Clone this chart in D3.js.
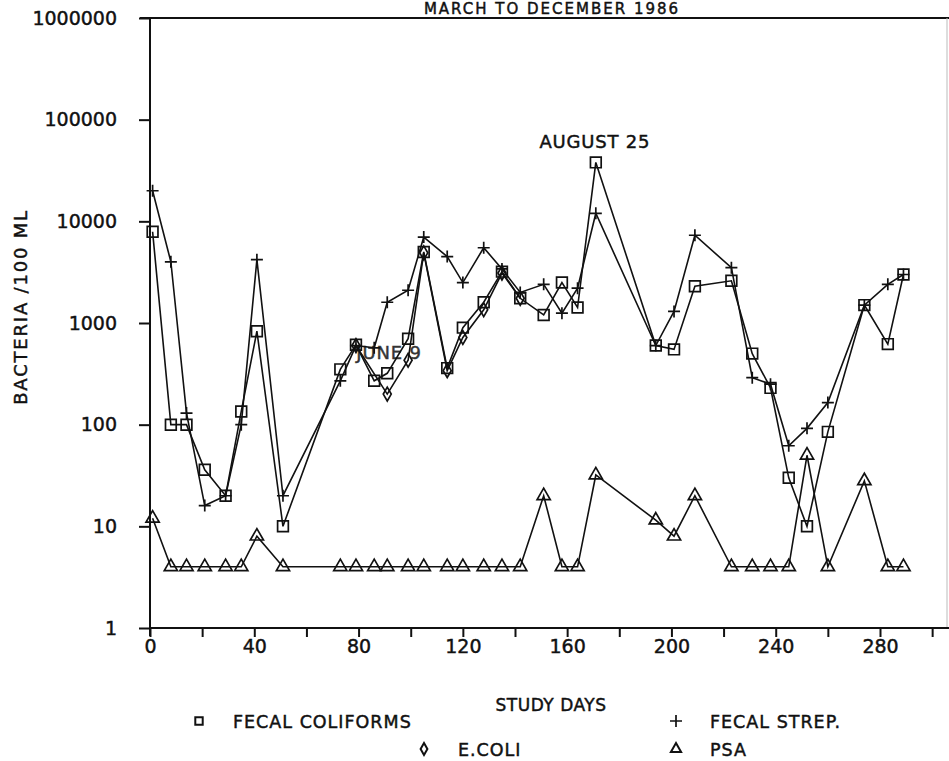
<!DOCTYPE html>
<html>
<head>
<meta charset="utf-8">
<script src="https://cdn.jsdelivr.net/npm/d3@7"></script>
<style>
  body { margin: 0; background: #fff; }
  text { font-family: "DejaVu Sans", sans-serif; fill: #111; stroke: #111; stroke-width: 0.45px; }
</style>
</head>
<body>
<div id="chart"></div>
<script>
// sampling days (study days) for the series measured every visit
const days = [1, 8, 14, 21, 29, 35, 41, 51, 73, 79, 86, 91, 99, 105, 114, 120, 128, 135, 142,
  151, 158, 164, 171, 194, 201, 209, 223, 231, 238, 245, 252, 260, 274, 283, 289];

const fecalColiforms = [7900, 100, 100, 36, 20, 135, 830, 10, 350, 610, 270, 320, 700, 5000, 360, 900, 1600, 3200, 1750,
  1200, 2500, 1420, 38000, 600, 550, 2300, 2600, 500, 230, 30, 10, 85, 1500, 620, 3000];

const fecalStrep = [20000, 4000, 130, 16, 20, 100, 4200, 20, 270, 600, 570, 1600, 2100, 7000, 4500, 2500, 5500, 3400, 2000,
  2400, 1250, 2200, 12000, 600, 1300, 7300, 3500, 290, 250, 62, 92, 165, 1500, 2400, 3000];

const psa = [12, 4, 4, 4, 4, 4, 8, 4, 4, 4, 4, 4, 4, 4, 4, 4, 4, 4, 4,
  20, 4, 4, 32, 11.5, 8, 20, 4, 4, 4, 4, 50, 4, 28, 4, 4];

// E. coli was only plotted for part of the summer
const ecoliDays = [79, 91, 99, 105, 114, 120, 128, 135, 142];
const ecoli = [600, 200, 430, 4900, 340, 720, 1350, 3100, 1750];

const yTicks = [1, 10, 100, 1000, 10000, 100000, 1000000];
const xTicks = d3.range(0, 301, 20);

const W = 949, H = 761;
const svg = d3.select("#chart")
  .append("svg")
  .attr("width", W)
  .attr("height", H);

const x = d3.scaleLinear().domain([0, 280]).range([150, 880]);
const y = d3.scaleLog().domain([1, 1000000]).range([628, 18]);

const ink = "#111";

// frame
svg.append("line").attr("x1", 140).attr("x2", W).attr("y1", 18).attr("y2", 18)
  .attr("stroke", ink).attr("stroke-width", 2);
svg.append("line").attr("x1", 947).attr("x2", 947).attr("y1", 18).attr("y2", 628)
  .attr("stroke", "#bbb").attr("stroke-width", 1);

// y axis
const yAxis = svg.append("g")
  .attr("transform", "translate(150,0)")
  .call(d3.axisLeft(y).tickValues(yTicks).tickFormat(d3.format("d")).tickSize(11).tickPadding(22));
yAxis.select(".domain").remove();
yAxis.append("line").attr("x1", 0).attr("x2", 0).attr("y1", 18).attr("y2", 636)
  .attr("stroke", ink).attr("stroke-width", 2);
yAxis.selectAll(".tick line").attr("stroke", ink).attr("stroke-width", 2);
yAxis.selectAll(".tick text").style("font-size", "19px").attr("fill", ink);

// x axis
const xAxis = svg.append("g")
  .attr("transform", "translate(0,628)")
  .call(d3.axisBottom(x).tickValues(xTicks).tickSize(9).tickPadding(3)
    .tickFormat(d => d % 40 === 0 && d <= 280 ? d : ""));
xAxis.select(".domain").remove();
xAxis.append("line").attr("x1", 150).attr("x2", W).attr("y1", 0).attr("y2", 0)
  .attr("stroke", ink).attr("stroke-width", 2);
xAxis.selectAll(".tick line").attr("stroke", ink).attr("stroke-width", 2);
xAxis.selectAll(".tick text").style("font-size", "19px").attr("fill", ink);

// titles
svg.append("text")
  .attr("x", 552).attr("y", 14)
  .attr("text-anchor", "middle")
  .style("font-size", "15px")
  .style("letter-spacing", "2px")
  .text("MARCH TO DECEMBER 1986");

svg.append("text")
  .attr("x", 551).attr("y", 711)
  .attr("text-anchor", "middle")
  .style("font-size", "17px")
  .style("letter-spacing", "0.5px")
  .text("STUDY DAYS");

svg.append("text")
  .attr("transform", "translate(27,307) rotate(-90)")
  .attr("text-anchor", "middle")
  .style("font-size", "18px")
  .style("letter-spacing", "1.8px")
  .text("BACTERIA /100 ML");

// markers
const sq = d3.symbol().type(d3.symbolSquare).size(115);
const tri = d3.symbol().type(d3.symbolTriangle).size(75);
const dia = d3.symbol().type(d3.symbolDiamond).size(55);

function drawPlus(g, cx, cy) {
  g.append("path")
    .attr("d", `M${cx - 6},${cy}H${cx + 6}M${cx},${cy - 6}V${cy + 6}`)
    .attr("stroke", ink).attr("stroke-width", 1.7).attr("fill", "none");
}

function series(xs, ys, marker) {
  const pts = xs.map((d, i) => [d, ys[i]]);
  const g = svg.append("g");
  g.append("path")
    .datum(pts)
    .attr("fill", "none")
    .attr("stroke", ink)
    .attr("stroke-width", 1.6)
    .attr("d", d3.line().x(d => x(d[0])).y(d => y(d[1])));
  pts.forEach(p => {
    const cx = x(p[0]), cy = y(p[1]);
    if (marker === "plus") drawPlus(g, cx, cy);
    else {
      const sym = marker === "square" ? sq : marker === "tri" ? tri : dia;
      g.append("path")
        .attr("d", sym())
        .attr("transform", `translate(${cx},${cy})`)
        .attr("fill", "none")
        .attr("stroke", ink)
        .attr("stroke-width", 1.7);
    }
  });
}

series(days, psa, "tri");
series(ecoliDays, ecoli, "diamond");
series(days, fecalStrep, "plus");
series(days, fecalColiforms, "square");

// annotations
svg.append("text")
  .attr("x", x(171) - 1).attr("y", 148)
  .attr("text-anchor", "middle")
  .style("font-size", "18px")
  .style("letter-spacing", "0.8px")
  .text("AUGUST 25");

svg.append("text")
  .attr("x", 389).attr("y", 359)
  .attr("text-anchor", "middle")
  .style("font-size", "18px")
  .style("letter-spacing", "0.8px")
  .style("opacity", 0.85)
  .text("JUNE 9");

// legend
const legend = [
  { label: "FECAL COLIFORMS", type: "square", lx: 199, ly: 722 },
  { label: "FECAL STREP.", type: "plus", lx: 676, ly: 722 },
  { label: "E.COLI", type: "diamond", lx: 424, ly: 750 },
  { label: "PSA", type: "tri", lx: 676, ly: 750 }
];
legend.forEach(l => {
  const g = svg.append("g");
  if (l.type === "plus") drawPlus(g, l.lx, l.ly - 1);
  else {
    const sym = l.type === "square" ? d3.symbol().type(d3.symbolSquare).size(55)
      : l.type === "tri" ? d3.symbol().type(d3.symbolTriangle).size(45)
      : d3.symbol().type(d3.symbolDiamond).size(40);
    g.append("path").attr("d", sym()).attr("transform", `translate(${l.lx},${l.ly - 1})`)
      .attr("fill", "none").attr("stroke", ink).attr("stroke-width", 2);
  }
  g.append("text")
    .attr("x", l.lx + 34).attr("y", l.ly + 6)
    .style("font-size", "17.5px")
    .style("letter-spacing", "1px")
    .text(l.label);
});
</script>
</body>
</html>
